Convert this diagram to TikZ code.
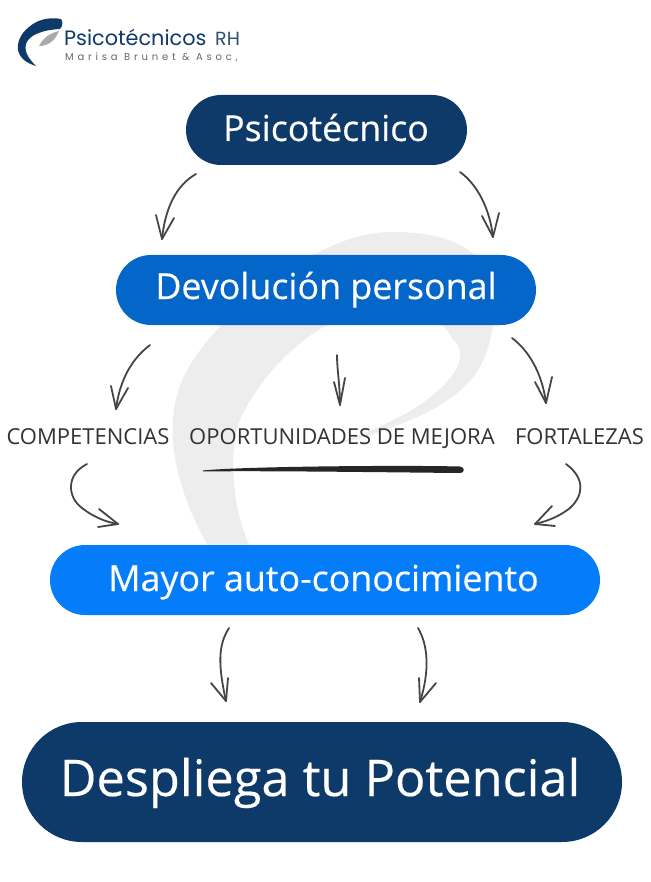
\documentclass[tikz,border=0pt]{standalone}
\usepackage{fontspec}
\setmainfont{Open Sans}
\newfontfamily\pillfont[FakeBold=0.35]{Open Sans}
\newfontfamily\logofont{Poppins}
\newfontfamily\logospaced[LetterSpace=38]{Poppins}
\definecolor{navy}{HTML}{0E3A69}
\definecolor{midblue}{HTML}{0466C8}
\definecolor{brightblue}{HTML}{057DFB}
\definecolor{wm}{HTML}{EDEDED}
\definecolor{ink}{HTML}{454545}
\definecolor{logogrey}{HTML}{A9A9A9}
\tikzset{
  pill/.style={rounded corners=#1, inner sep=0pt, text=white, align=center},
  hand/.style={draw=ink, line width=1.8pt, line cap=round, line join=round},
  lbl/.style={inner sep=0pt, text=black!80, font=\fontsize{22}{24}\selectfont, anchor=base},
  pilltext/.style={font=\pillfont\fontsize{#1}{#1}\selectfont, text=white, inner sep=0pt, anchor=base},
}
\begin{document}
\begin{tikzpicture}[x=1pt,y=-1pt]
\useasboundingbox (0,0) rectangle (650,882);
\fill[white] (0,0) rectangle (650,882);
% watermark
\fill[wm] (217,330) .. controls (245,295) and (280,268) .. (317,253)
  .. controls (340,241) and (365,232) .. (393,232)
  .. controls (430,232) and (465,240) .. (480,262)
  .. controls (492,280) and (495,305) .. (493,325)
  .. controls (490,345) and (485,360) .. (475,375)
  .. controls (455,400) and (425,415) .. (395,426)
  .. controls (370,436) and (345,443) .. (323,447)
  .. controls (345,442) and (375,430) .. (405,414)
  .. controls (430,400) and (450,382) .. (457,368)
  .. controls (463,355) and (460,345) .. (452,338)
  .. controls (445,325) and (430,310) .. (410,305)
  .. controls (385,305) and (350,315) .. (327,325)
  .. controls (290,345) and (255,385) .. (240,420)
  .. controls (228,450) and (232,510) .. (250,546)
  -- (208,546) .. controls (185,505) and (170,460) .. (173,420)
  .. controls (175,385) and (190,360) .. (217,330) -- cycle;
% logo
\fill[navy] (61,19) .. controls (50,17) and (38,19) .. (29,27)
  .. controls (20,34) and (17,43) .. (18,50)
  .. controls (20,59) and (27,63) .. (36,66)
  .. controls (29,59) and (24,52) .. (26,44)
  .. controls (29,35) and (42,30) .. (60,29)
  .. controls (63,26) and (63,21) .. (61,19) -- cycle;
\fill[logogrey] (59,31) .. controls (50,33) and (43,38) .. (39,46)
  .. controls (48,46) and (55,41) .. (59,31) -- cycle;
\node[inner sep=0pt,anchor=base west,text=navy,font=\logofont\fontsize{20.8}{22}\selectfont] (logoa) at (64,46) {Psicotécnicos};
\node[inner sep=0pt,anchor=base west,text=navy!70!gray,font=\logofont\fontsize{19}{20}\selectfont] (logob) at (215,46) {RH};
\node[inner sep=0pt,anchor=base west,text=black!60,font=\logospaced\fontsize{10}{12}\selectfont] (logoc) at (65,61) {Marisa Brunet \& Asoc,};
% pills
\node[pill=35pt, fill=navy, minimum width=281pt, minimum height=70pt] (a) at (326.5,130) {};
\node[pilltext=35.8] (at) at (326,141) {Psicotécnico};
\node[pill=35pt, fill=midblue, minimum width=420pt, minimum height=70pt] (b) at (326,290) {};
\node[pilltext=35.8] (bt) at (326,299) {Devolución personal};
\node[pill=35pt, fill=brightblue, minimum width=550pt, minimum height=70pt] (c) at (325,580) {};
\node[pilltext=35.8] (ct) at (323.5,591) {Mayor auto-conocimiento};
\node[pill=60pt, fill=navy, minimum width=600pt, minimum height=120pt] (d) at (322,782) {};
\node[pilltext=50.5] (dt) at (320,796) {Despliega tu Potencial};
% labels
\node[lbl] (l1) at (88,444) {COMPETENCIAS};
\node[lbl] (l2) at (342,444) {OPORTUNIDADES DE MEJORA};
\node[lbl] (l3) at (579.5,444) {FORTALEZAS};
% stroke
\fill[black!85] (203,470.5) .. controls (240,466.5) and (400,465) .. (460,466.5)
  .. controls (465,467) and (465,473) .. (460,473)
  .. controls (400,472.5) and (260,470.5) .. (203,471.5) -- cycle;
% arrows
\draw[hand] (196,174) .. controls (175,186) and (165,210) .. (162,239);
\draw[hand] (156,215) -- (162,239) -- (174,218);
\draw[hand] (460,172) .. controls (478,185) and (490,210) .. (493,237);
\draw[hand] (482,216) -- (493,237) -- (499,213);
\draw[hand] (150,345) .. controls (133,358) and (120,378) .. (116,409);
\draw[hand] (111,386) -- (116,409) -- (128,388);
\draw[hand] (337,355) .. controls (337,370) and (340,385) .. (340,405);
\draw[hand] (334,382) -- (340,405) -- (345,378);
\draw[hand] (512,338) .. controls (528,350) and (542,372) .. (546,403);
\draw[hand] (535,382) -- (546,403) -- (552,377);
\draw[hand] (87,464) .. controls (65,475) and (68,498) .. (82,508) .. controls (92,516) and (105,522) .. (118,524);
\draw[hand] (99,509) -- (118,524) -- (98,527);
\draw[hand] (566,464) .. controls (585,478) and (584,495) .. (570,508) .. controls (560,516) and (548,521) .. (535,524);
\draw[hand] (552,506) -- (535,524) -- (555,526);
\draw[hand] (229,628) .. controls (218,645) and (218,665) .. (226,701);
\draw[hand] (211,683) -- (226,701) -- (228,678);
\draw[hand] (418,628) .. controls (428,645) and (430,670) .. (420,702);
\draw[hand] (436,683) -- (420,702) -- (419,678);
\end{tikzpicture}
\end{document}
